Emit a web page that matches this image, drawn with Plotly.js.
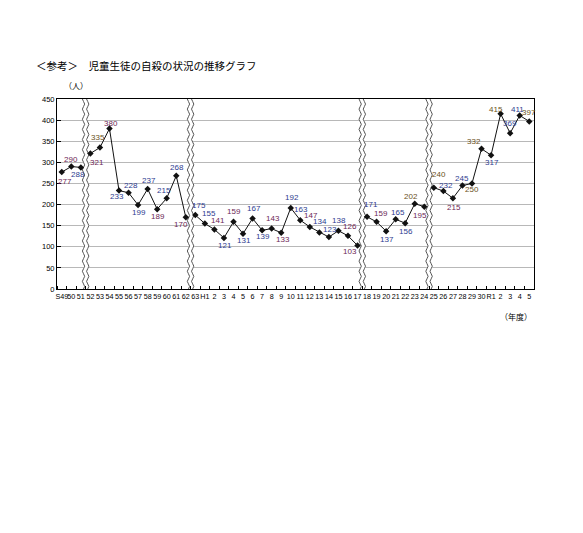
<!DOCTYPE html>
<html>
<head>
<meta charset="utf-8">
<script src="https://cdn.plot.ly/plotly-3.0.1.min.js"></script>
<style>
  html, body { margin: 0; padding: 0; background: #fff; }
  #chart { width: 583px; height: 533px; }
</style>
</head>
<body>
<div id="chart"></div>
<script>
// 年度ラベル（S49〜S63, H1〜H30, R1〜R5）
var years = ['S49','50','51','52','53','54','55','56','57','58','59','60','61','62','63',
  'H1','2','3','4','5','6','7','8','9','10','11','12','13','14','15','16','17',
  '18','19','20','21','22','23','24','25','26','27','28','29','30',
  'R1','2','3','4','5'];

// 児童生徒の自殺者数（人）
var suicides = [277,290,288,321,335,380,233,228,199,237,189,215,268,170,175,
  155,141,121,159,131,167,139,143,133,192,163,147,134,123,138,126,103,
  171,159,137,165,156,202,195,240,232,215,245,250,332,
  317,415,369,411,397];

// 系列が途切れる位置（この index の前で切る）
var breakBefore = [3, 14, 32, 39];

// 数値ラベルの色
var B = '#2d3c8f', M = '#6d1f55', O = '#6a5222';
var labelColors = [M,M,B,M,O,M,B,B,B,B,M,B,B,M,B,
  B,M,B,M,B,B,B,M,M,B,B,M,B,B,B,M,M,
  B,M,B,B,B,O,M,O,B,M,B,O,O,
  B,O,B,B,O];
// 数値ラベルのずれ（px、右・下が正）
var labelDx = [3,0,-3,7,-2,2,-2,2,1,1,1,-3,1,-5,4,
  4,4,1,1,1,1,1,1,2,1,1,1,1,1,1,2,-8,
  4,4,1,2,1,-4,-4,5,3,1,0,0,-8,
  1,-5,0,-2,0];
var labelDy = [9,-7,7,9,-10,-5,6,-7,8,-8,7,-8,-8,7,-10,
  -10,-9,8,-10,7,-10,6,-10,7,-10,-11,-11,-11,-8,-10,-9,6,
  -12,-8,8,-7,8,-7,9,-13,-6,9,-7,6,-7,
  7,-4,-10,-6,-9];

var xs = years.map(function (_, i) { return i; });

// 区間ごとに線を分ける
var traces = [];
var cuts = [0].concat(breakBefore, [years.length]);
for (var s = 0; s < cuts.length - 1; s++) {
  var a = cuts[s], b = cuts[s + 1];
  traces.push({
    x: xs.slice(a, b),
    y: suicides.slice(a, b),
    type: 'scatter',
    mode: 'lines+markers',
    line: { color: '#111', width: 1 },
    marker: { color: '#111', size: 5, symbol: 'diamond' },
    hoverinfo: 'skip',
    showlegend: false
  });
}

// 数値ラベル
var annotations = suicides.map(function (v, i) {
  return {
    x: i, y: v, xref: 'x', yref: 'y',
    text: String(v), showarrow: false,
    xshift: labelDx[i], yshift: -labelDy[i],
    font: { family: 'Liberation Sans, Arial, sans-serif', size: 8, color: labelColors[i] }
  };
});
annotations.push(
  { text: '（人）', xref: 'paper', yref: 'paper', x: 0.01, y: 1.03, xanchor: 'left', yanchor: 'bottom',
    showarrow: false, font: { family: 'Noto Sans CJK JP', size: 8, color: '#000' } },
  { text: '（年度）', xref: 'paper', yref: 'paper', x: 1.0, y: -0.144, xanchor: 'right', yanchor: 'middle',
    showarrow: false, font: { family: 'Noto Sans CJK JP', size: 8, color: '#000' } }
);

// 波線（省略記号）
function wave(xc, off) {
  var p = '', n = 0;
  for (var y = 0; y <= 452; y += 6) {
    var x = xc + off + Math.sin(y / 12 * Math.PI) * 0.12;
    p += (n++ === 0 ? 'M' : 'L') + x.toFixed(3) + ',' + y;
  }
  return p;
}
var shapes = [];
breakBefore.forEach(function (bi) {
  var xc = bi - 0.5;
  shapes.push({ type: 'path', xref: 'x', yref: 'y', path: wave(xc, 0), line: { color: '#fff', width: 5 }, layer: 'between' });
  shapes.push({ type: 'path', xref: 'x', yref: 'y', path: wave(xc, -0.22), line: { color: '#555', width: 1 }, layer: 'between' });
  shapes.push({ type: 'path', xref: 'x', yref: 'y', path: wave(xc, 0.22), line: { color: '#555', width: 1 }, layer: 'between' });
});

var layout = {
  width: 583,
  height: 533,
  margin: { l: 57, r: 49, t: 99, b: 244 },
  paper_bgcolor: '#fff',
  plot_bgcolor: '#fff',
  font: { family: 'Liberation Sans, Arial, sans-serif', color: '#000' },
  title: {
    text: '＜参考＞　児童生徒の自殺の状況の推移グラフ',
    font: { family: 'Noto Sans CJK JP', size: 10.5, color: '#000' },
    xref: 'container', yref: 'container',
    x: 36 / 583, xanchor: 'left',
    y: 1 - 66 / 533, yanchor: 'middle'
  },
  xaxis: {
    range: [-0.5, years.length - 0.5],
    tickmode: 'array',
    tickvals: xs,
    ticktext: years,
    tickangle: 0,
    ticks: '',
    tickfont: { size: 7.2, color: '#000' },
    showgrid: false,
    zeroline: false,
    showline: true,
    linecolor: '#000',
    linewidth: 1,
    mirror: true,
    minor: { tick0: -0.5, dtick: 1, ticks: 'inside', ticklen: 3, tickcolor: '#000', showgrid: false },
    fixedrange: true
  },
  yaxis: {
    range: [0, 450],
    tickmode: 'linear',
    tick0: 0,
    dtick: 50,
    ticks: 'inside',
    ticklen: 4,
    tickcolor: '#000',
    tickfont: { size: 7.5, color: '#000' },
    showgrid: true,
    gridcolor: '#b8b8b8',
    gridwidth: 1,
    zeroline: false,
    showline: true,
    linecolor: '#000',
    linewidth: 1,
    mirror: true,
    fixedrange: true
  },
  shapes: shapes,
  annotations: annotations
};

Plotly.newPlot('chart', traces, layout, { displayModeBar: false, staticPlot: true });
</script>
</body>
</html>
